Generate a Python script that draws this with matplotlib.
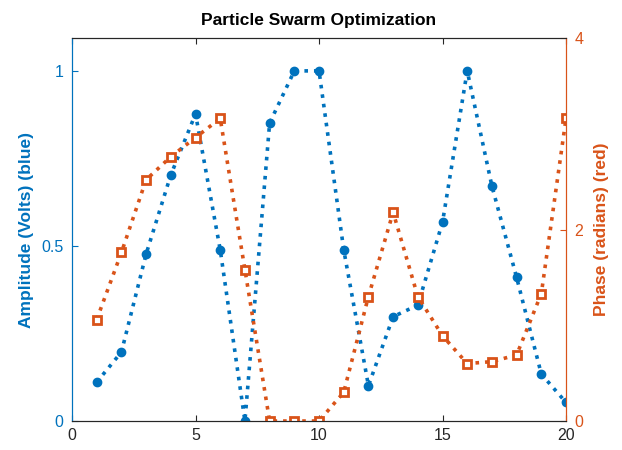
import numpy as np
import matplotlib
matplotlib.use('Agg')
import matplotlib.pyplot as plt

plt.rcParams['font.family'] = ['Liberation Sans', 'DejaVu Sans']

x = np.arange(1, 21)
amp = [0.111, 0.197, 0.477, 0.703, 0.877, 0.489, 0.0, 0.851, 1.0, 1.0,
       0.489, 0.101, 0.298, 0.331, 0.568, 1.0, 0.671, 0.410, 0.134, 0.053]
phase = [1.06, 1.76, 2.52, 2.76, 2.96, 3.16, 1.58, 0.0, 0.0, 0.0,
         0.30, 1.30, 2.18, 1.30, 0.89, 0.60, 0.62, 0.69, 1.33, 3.16]

blue = '#0072BD'
red = '#D95319'

fig = plt.figure(figsize=(6.22, 4.5), dpi=100)
ax = fig.add_axes([0.1158, 0.0644, 0.7942, 0.8512])
ax2 = ax.twinx()

ax.plot(x, amp, ':', color=blue, lw=2.6, marker='o', ms=6, mfc=blue, mec=blue)
ax2.plot(x, phase, ':', color=red, lw=2.6, marker='s', ms=6, mfc='white', mec=red, mew=2)

ax.set_xlim(0, 20)
ax.set_ylim(0, 1.094)
ax2.set_ylim(0, 4)
ax.set_xticks([0, 5, 10, 15, 20])
ax.set_yticks([0, 0.5, 1])
ax.set_yticklabels(['0', '0.5', '1'])
ax2.set_yticks([0, 2, 4])

ax.tick_params(axis='x', direction='in', top=True, colors='#262626', labelsize=11.5, length=4, pad=5)
ax.tick_params(axis='y', direction='in', colors=blue, labelsize=11.5, length=4, pad=6)
ax2.tick_params(axis='y', direction='in', colors=red, labelsize=11.5, length=4, pad=6)

for a in (ax, ax2):
    a.spines['top'].set_color('#262626')
    a.spines['bottom'].set_color('#262626')
    a.spines['left'].set_color(blue)
    a.spines['right'].set_color(red)
    for s in a.spines.values():
        s.set_linewidth(0.8)

ax.set_ylabel('Amplitude (Volts) (blue)', color=blue, fontsize=12.5, fontweight='bold', labelpad=5)
ax2.set_ylabel('Phase (radians) (red)', color=red, fontsize=12.5, fontweight='bold', labelpad=8)
ax.set_title('Particle Swarm Optimization', fontsize=12.5, fontweight='bold', pad=9)

fig.savefig('out.png', dpi=100)
